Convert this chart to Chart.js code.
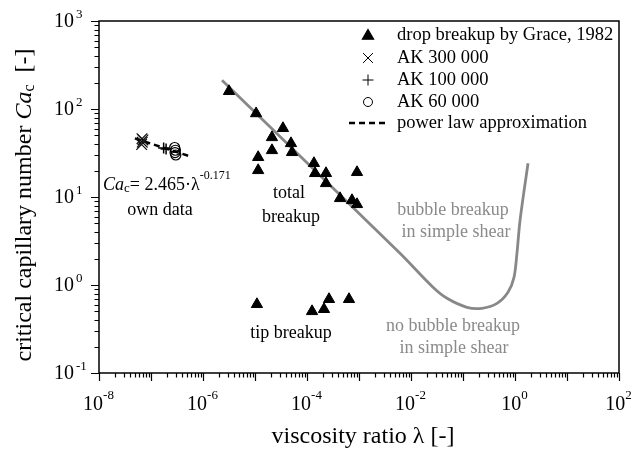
<!DOCTYPE html>
<html lang="en">
<head>
  <meta charset="UTF-8">
  <title>Critical capillary number vs viscosity ratio</title>
  <style>
    *{margin:0;padding:0;box-sizing:border-box;}
    body{background:#fff;}
    #wrap{width:637px;height:452px;}
  </style>
  <script src="https://cdn.jsdelivr.net/npm/chart.js@4.4.0/dist/chart.umd.min.js"></script>
</head>
<body>
  <div id="wrap"><canvas id="chart" width="637" height="452"></canvas></div>
  <script>
    // drop breakup by Grace, 1982 (total breakup + tip breakup)
    const graceX = [3.16e-6, 1.05e-5, 1.15e-5, 1.15e-5, 2.12e-5, 2.12e-5, 3.45e-5, 4.92e-5, 5.15e-5,
                    1.36e-4, 1.43e-4, 2.32e-4, 2.32e-4, 9.16e-4, 4.32e-4, 7.33e-4, 9.16e-4,
                    1.09e-5, 1.25e-4, 2.12e-4, 2.65e-4, 6.42e-4];
    const graceY = [159, 89, 28.3, 20.1, 47.6, 33.9, 60.4, 40.7, 32.2,
                    24.2, 18.6, 18.6, 14.3, 19.1, 9.66, 9.17, 8.26,
                    0.604, 0.502, 0.530, 0.689, 0.689];

    // own data
    const ak300X = [6.6e-8, 6.8e-8, 7.0e-8, 6.7e-8];
    const ak300Y = [39.5, 42, 44.5, 46];
    const ak100X = [1.75e-7, 1.95e-7];
    const ak100Y = [36, 35];
    const ak60X  = [2.85e-7, 2.95e-7, 2.9e-7, 3.0e-7];
    const ak60Y  = [36.5, 34, 32, 30];

    // power law approximation Ca_c = 2.465 * lambda^-0.171
    const powX = [4.9e-8, 5.9e-7];
    const powY = [46.3, 28.7];

    // bubble breakup boundary in simple shear
    const shearX = [2.32e-6, 6.14e-3, 0.0265, 0.0492, 0.119, 0.232, 0.451, 0.733, 0.957, 1.09, 1.25, 1.78];
    const shearY = [212, 2.29, 0.942, 0.706, 0.558, 0.544, 0.619, 0.827, 1.22, 2.29, 5.43, 24.2];

    const xLabelExps = [-8, -6, -4, -2, 0, 2];
    const yLabelExps = [-1, 0, 1, 2, 3];

    const SERIF = '"Liberation Serif", "Times New Roman", serif';
    const GRAY = '#8a8a8a';

    const pts = (xs, ys) => xs.map((v, i) => ({x: v, y: ys[i]}));

    function logTicks(lo, hi) {
      const out = [];
      for (let e = lo; e < hi; e++)
        for (let m = 1; m <= 9; m++) out.push({v: m * Math.pow(10, e), major: m === 1});
      out.push({v: Math.pow(10, hi), major: true});
      return out;
    }

    // draws a list of [text, font, dy] pieces left to right
    function pieces(ctx, parts, x, y) {
      let cx = x;
      parts.forEach(([t, f, dy]) => {
        ctx.font = f;
        ctx.fillText(t, cx, y + (dy || 0));
        cx += ctx.measureText(t).width;
      });
      return cx - x;
    }
    function piecesWidth(ctx, parts) {
      return parts.reduce((w, [t, f]) => { ctx.font = f; return w + ctx.measureText(t).width; }, 0);
    }

    const overlay = {
      id: 'overlay',
      afterDraw(chart) {
        const {ctx, chartArea: a, scales: {x, y}} = chart;
        ctx.save();
        ctx.strokeStyle = '#000';
        ctx.fillStyle = '#000';

        // frame
        ctx.lineWidth = 1.5;
        ctx.strokeRect(a.left, a.top, a.right - a.left, a.bottom - a.top);

        // ticks (outside, bottom + left)
        ctx.lineWidth = 1.2;
        ctx.beginPath();
        logTicks(-8, 2).forEach(t => {
          const px = Math.round(x.getPixelForValue(t.v)) + 0.5;
          ctx.moveTo(px, a.bottom); ctx.lineTo(px, a.bottom + (t.major ? 8 : 4.5));
        });
        logTicks(-1, 3).forEach(t => {
          const py = Math.round(y.getPixelForValue(t.v)) + 0.5;
          ctx.moveTo(a.left, py); ctx.lineTo(a.left - (t.major ? 8 : 4.5), py);
        });
        ctx.stroke();

        // tick labels 10^n
        const big = '20px ' + SERIF, small = '13px ' + SERIF;
        ctx.textBaseline = 'middle';
        ctx.textAlign = 'left';
        xLabelExps.forEach(e => {
          const parts = [['10', big, 0], [String(e), small, -9]];
          const w = piecesWidth(ctx, parts) + 1;
          const px = x.getPixelForValue(Math.pow(10, e));
          pieces(ctx, parts, px - w / 2, 405);
        });
        yLabelExps.forEach(e => {
          const py = y.getPixelForValue(Math.pow(10, e));
          ctx.font = big;
          const w10 = ctx.measureText('10').width;
          ctx.fillText('10', 54, py + 1);
          ctx.font = small;
          ctx.fillText(String(e), 54 + w10 + 2, py - 6);
        });

        // axis titles
        const tf = '24px ' + SERIF;
        ctx.font = tf;
        ctx.textAlign = 'center';
        ctx.fillText('viscosity ratio \u03bb [-]', 363, 437);

        ctx.save();
        ctx.translate(25, 205);
        ctx.rotate(-Math.PI / 2);
        ctx.textAlign = 'left';
        const yt = [['critical capillary number ', tf, 0], ['Ca', 'italic ' + tf, 0],
                    ['c', '16px ' + SERIF, 5], ['  [-]', tf, 0]];
        pieces(ctx, yt, -piecesWidth(ctx, yt) / 2, 0);
        ctx.restore();

        // annotations
        const af = '18px ' + SERIF;
        ctx.textAlign = 'left';
        pieces(ctx, [['Ca', 'italic ' + af, 0], ['c', '13px ' + SERIF, 4],
                     ['= 2.465\u00b7\u03bb', af, 0], ['-0.171', '12px ' + SERIF, -9]], 103, 185);
        ctx.textAlign = 'center';
        ctx.font = af;
        ctx.fillText('own data', 160, 210);
        ctx.fillText('total', 289, 193);
        ctx.fillText('breakup', 291, 217);
        ctx.fillText('tip breakup', 291, 333);
        ctx.fillStyle = GRAY;
        ctx.fillText('bubble breakup', 453, 210);
        ctx.fillText('in simple shear', 456, 232);
        ctx.fillText('no bubble breakup', 453, 326);
        ctx.fillText('in simple shear', 454, 348);

        // legend
        ctx.fillStyle = '#000';
        ctx.textAlign = 'left';
        ctx.font = '18.5px ' + SERIF;
        const rows = [35, 58, 80, 102, 123];
        const names = ['drop breakup by Grace, 1982', 'AK 300 000', 'AK 100 000', 'AK 60 000',
                       'power law approximation'];
        names.forEach((n, i) => ctx.fillText(n, 397, rows[i]));
        const mx = 368;
        Chart.helpers.drawPoint(ctx, {pointStyle: 'triangle', radius: 6.5, borderWidth: 1}, mx, rows[0] + 1);
        ctx.lineWidth = 1;
        ctx.fillStyle = '#fff';
        Chart.helpers.drawPoint(ctx, {pointStyle: 'crossRot', radius: 7, borderWidth: 1}, mx, rows[1]);
        Chart.helpers.drawPoint(ctx, {pointStyle: 'cross', radius: 5.5, borderWidth: 1}, mx, rows[2]);
        Chart.helpers.drawPoint(ctx, {pointStyle: 'circle', radius: 4.5, borderWidth: 1}, mx, rows[3]);
        ctx.lineWidth = 2.5;
        ctx.setLineDash([6, 4]);
        ctx.beginPath(); ctx.moveTo(349, rows[4]); ctx.lineTo(385, rows[4]); ctx.stroke();
        ctx.restore();
      }
    };

    new Chart(document.getElementById('chart'), {
      type: 'scatter',
      data: {
        datasets: [
          {label: 'bubble breakup in simple shear', data: pts(shearX, shearY), showLine: true,
           borderColor: '#888', borderWidth: 2.8, pointRadius: 0, tension: 0.3, order: 5},
          {label: 'power law approximation', data: pts(powX, powY), showLine: true,
           borderColor: '#000', borderWidth: 2.5, borderDash: [6, 4], pointRadius: 0, order: 4},
          {label: 'drop breakup by Grace, 1982', data: pts(graceX, graceY), pointStyle: 'triangle',
           pointRadius: 6.5, backgroundColor: '#000', borderColor: '#000', borderWidth: 1, order: 1},
          {label: 'AK 300 000', data: pts(ak300X, ak300Y), pointStyle: 'crossRot',
           pointRadius: 7.5, borderColor: '#111', borderWidth: 1.2, order: 2},
          {label: 'AK 100 000', data: pts(ak100X, ak100Y), pointStyle: 'cross',
           pointRadius: 5.5, borderColor: '#000', borderWidth: 1.5, order: 2},
          {label: 'AK 60 000', data: pts(ak60X, ak60Y), pointStyle: 'circle',
           pointRadius: 5, backgroundColor: 'rgba(255,255,255,0)', borderColor: '#000', borderWidth: 1.2, order: 2}
        ]
      },
      options: {
        responsive: false,
        animation: false,
        devicePixelRatio: 1,
        layout: {padding: {top: 21, right: 18, left: 0, bottom: 0}},
        plugins: {legend: {display: false}, tooltip: {enabled: false}},
        scales: {
          x: {type: 'logarithmic', min: 1e-8, max: 1e2,
              grid: {display: false}, border: {display: false}, ticks: {display: false},
              afterFit: s => { s.height = 79; }},
          y: {type: 'logarithmic', min: 1e-1, max: 1e3,
              grid: {display: false}, border: {display: false}, ticks: {display: false},
              afterFit: s => { s.width = 99; }}
        }
      },
      plugins: [overlay]
    });
  </script>
</body>
</html>
